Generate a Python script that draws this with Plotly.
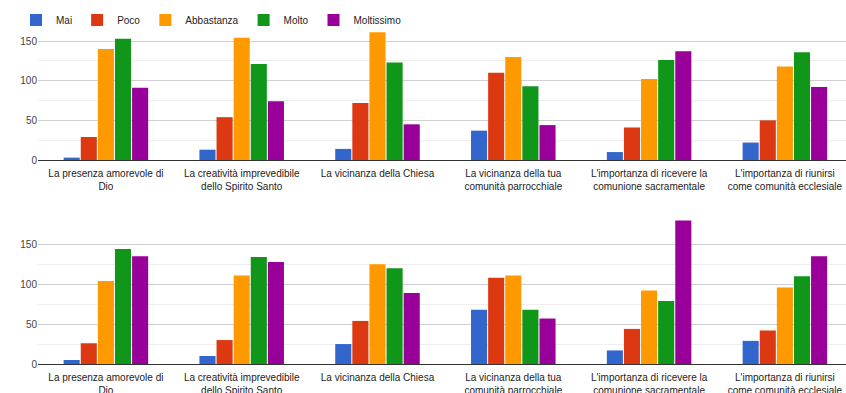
import plotly.graph_objects as go
from plotly.subplots import make_subplots

CATEGORIES = [
    "La presenza amorevole di<br>Dio",
    "La creatività imprevedibile<br>dello Spirito Santo",
    "La vicinanza della Chiesa",
    "La vicinanza della tua<br>comunità parrocchiale",
    "L'importanza di ricevere la<br>comunione sacramentale",
    "L'importanza di riunirsi<br>come comunità ecclesiale",
]
SERIES = ["Mai", "Poco", "Abbastanza", "Molto", "Moltissimo"]
COLORS = ["#3366CC", "#DC3912", "#FF9900", "#109618", "#990099"]

# top chart
TOP_MAI = [3, 13, 14, 37, 10, 22]
TOP_POCO = [29, 54, 72, 110, 41, 50]
TOP_ABBASTANZA = [140, 154, 161, 130, 102, 118]
TOP_MOLTO = [153, 121, 123, 93, 126, 136]
TOP_MOLTISSIMO = [91, 74, 45, 44, 137, 92]

# bottom chart
BOT_MAI = [5, 10, 25, 68, 17, 29]
BOT_POCO = [26, 30, 54, 108, 44, 42]
BOT_ABBASTANZA = [104, 111, 125, 111, 92, 96]
BOT_MOLTO = [144, 134, 120, 68, 79, 110]
BOT_MOLTISSIMO = [135, 128, 89, 57, 180, 135]

TOP = [TOP_MAI, TOP_POCO, TOP_ABBASTANZA, TOP_MOLTO, TOP_MOLTISSIMO]
BOT = [BOT_MAI, BOT_POCO, BOT_ABBASTANZA, BOT_MOLTO, BOT_MOLTISSIMO]

W, H = 846, 393
FONT = "Liberation Sans, Arial, sans-serif"

fig = make_subplots(rows=2, cols=1)

for row, data in ((1, TOP), (2, BOT)):
    for name, vals, color in zip(SERIES, data, COLORS):
        fig.add_trace(
            go.Bar(
                x=CATEGORIES, y=vals, name=name, marker_color=color,
                marker_line_width=0, showlegend=(row == 1),
            ),
            row=row, col=1,
        )

fig.update_layout(
    width=W, height=H,
    paper_bgcolor="white", plot_bgcolor="white",
    font=dict(family=FONT, size=10, color="#222"),
    margin=dict(l=0, r=0, t=0, b=0),
    barmode="group", bargap=0.37, bargroupgap=0.06,
    legend=dict(
        orientation="h", x=16 / W, xanchor="left", y=1 - 20 / H, yanchor="middle",
        font=dict(size=10, color="#222"), itemwidth=30, bgcolor="rgba(0,0,0,0)",
    ),
)

xaxis_style = dict(
    domain=[38 / W, 1], range=[-0.5, 5.45], showline=True, linecolor="#333",
    linewidth=1, ticks="", automargin=False, ticklabelstandoff=4,
    tickfont=dict(size=10, color="#222"),
)
fig.update_layout(
    xaxis=xaxis_style,
    xaxis2=xaxis_style,
    yaxis=dict(domain=[1 - 160 / H, 1 - 27 / H], range=[0, 167.7]),
    yaxis2=dict(domain=[1 - 364 / H, 1 - 218 / H], range=[0, 183]),
)
fig.update_yaxes(
    tickvals=[0, 50, 100, 150], showgrid=True, gridcolor="#d0d0d0", gridwidth=1,
    zeroline=False, automargin=False, tickfont=dict(size=10, color="#444"),
    minor=dict(tickvals=[25, 75, 125], showgrid=True, gridcolor="#eeeeee"),
)

# page has a default 8px body margin; drop it so the figure sits at 0,0
fig.write_html(
    "out.html",
    config={"displayModeBar": False},
    post_script="document.body.style.margin='0';document.body.style.overflow='hidden';",
)
